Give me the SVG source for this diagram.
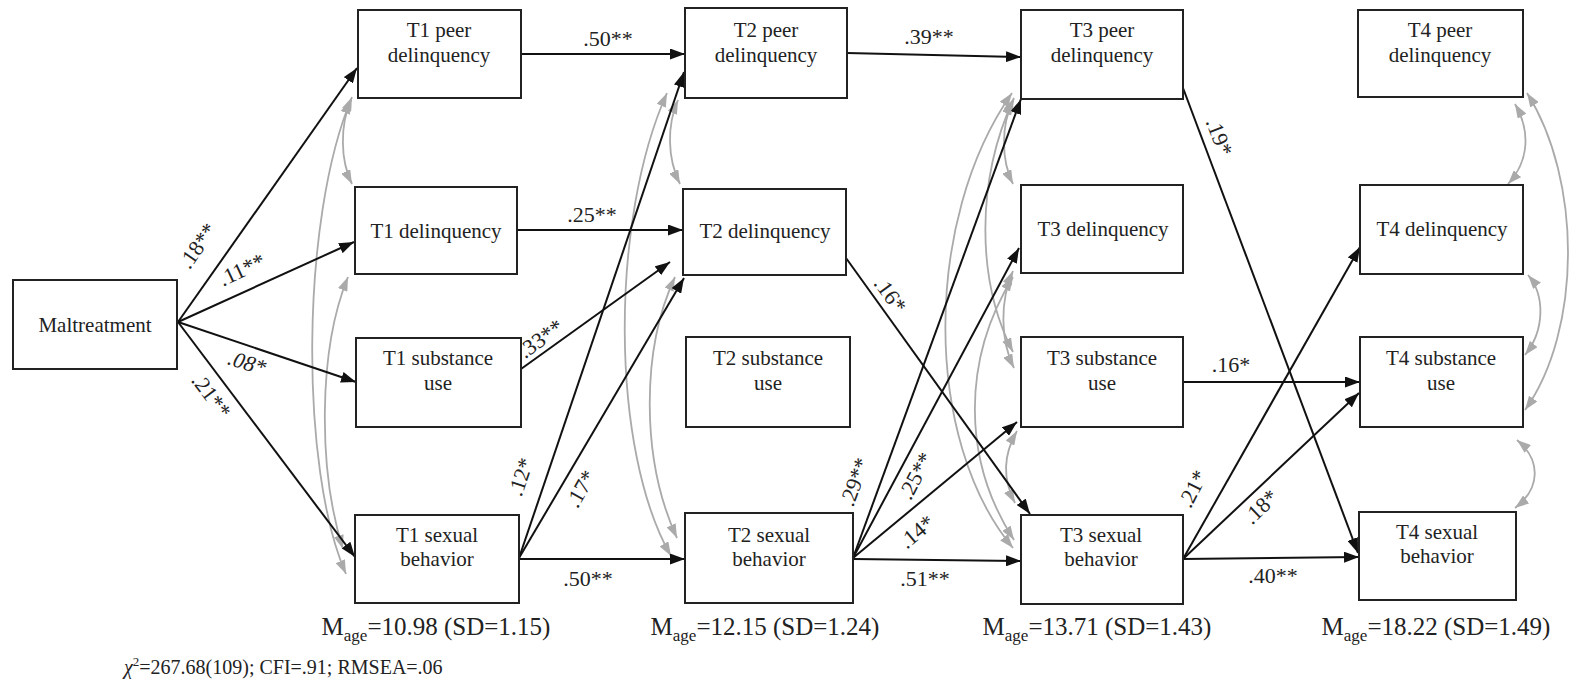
<svg xmlns="http://www.w3.org/2000/svg" width="1593" height="681" viewBox="0 0 1593 681">
<style>
  text { font-family: "Liberation Serif", serif; fill: #222; }
  .box rect { fill: #fff; stroke: #222; stroke-width: 2; }
  .box text { font-size: 21px; text-anchor: middle; }
  .lbl { font-size: 22px; text-anchor: middle; }
  .note { font-size: 25px; text-anchor: middle; }
  .fit { font-size: 20px; }
  .path { fill: none; stroke: #111; stroke-width: 2; marker-end: url(#ah); }
  .cov { fill: none; stroke: #aaa; stroke-width: 1.8; marker-start: url(#gh); marker-end: url(#gh); }
</style>
<defs>
  <marker id="ah" markerUnits="userSpaceOnUse" markerWidth="15" markerHeight="11" refX="15" refY="5.5" orient="auto">
    <path d="M0,0 L15,5.5 L0,11 z" fill="#111"/>
  </marker>
  <marker id="gh" markerUnits="userSpaceOnUse" markerWidth="14" markerHeight="10" refX="14" refY="5" orient="auto-start-reverse">
    <path d="M0,0 L14,5 L0,10 z" fill="#aaa"/>
  </marker>
</defs>
<rect width="1593" height="681" fill="#fff"/>

<g id="connectors" font-family="Liberation Serif, serif">
  <!-- covariances -->
  <path class="cov" d="M351,100 C340,125 340,160 352,184"/>
  <path class="cov" d="M352,97 C300,220 300,470 346,574"/>
  <path class="cov" d="M348,277 C318,350 318,470 343,549"/>

  <path class="cov" d="M678,100 C667,125 667,158 680,184"/>
  <path class="cov" d="M667,93 C610,220 610,450 671,556"/>
  <path class="cov" d="M675,277 C641,350 641,460 677,538"/>

  <path class="cov" d="M1013,101 C1001,125 1001,160 1013,184"/>
  <path class="cov" d="M1014,98 C976,180 976,280 1013,352"/>
  <path class="cov" d="M1012,93 C923,220 923,440 1013,548"/>
  <path class="cov" d="M1013,271 C1000,300 1000,340 1014,368"/>
  <path class="cov" d="M1013,277 C962,360 962,460 1014,540"/>
  <path class="cov" d="M1017,431 C1003,455 1003,480 1015,503"/>

  <path class="cov" d="M1515,104 C1530,130 1530,160 1508,184"/>
  <path class="cov" d="M1527,93 C1582,180 1582,330 1525,410"/>
  <path class="cov" d="M1528,275 C1545,295 1545,330 1525,355"/>
  <path class="cov" d="M1517,440 C1541,460 1541,488 1515,508"/>

  <!-- regression paths -->
  <path class="path" d="M178,322 L357,68"/>
  <path class="path" d="M178,322 L354,242"/>
  <path class="path" d="M178,322 L356,382"/>
  <path class="path" d="M178,322 L355,557"/>

  <path class="path" d="M521,54 L685,54"/>
  <path class="path" d="M517,230 L683,230"/>
  <path class="path" d="M521,369 L670,262"/>
  <path class="path" d="M519,558 L684,72"/>
  <path class="path" d="M519,558 L684,278"/>
  <path class="path" d="M519,559 L685,559"/>

  <path class="path" d="M847,53 L1021,57"/>
  <path class="path" d="M846,258 L1030,514"/>
  <path class="path" d="M853,558 L1021,99"/>
  <path class="path" d="M853,558 L1019,248"/>
  <path class="path" d="M853,558 L1017,422"/>
  <path class="path" d="M853,559 L1021,561"/>

  <path class="path" d="M1183,88 L1358,553"/>
  <path class="path" d="M1183,382 L1360,382"/>
  <path class="path" d="M1183,559 L1360,247"/>
  <path class="path" d="M1183,559 L1359,393"/>
  <path class="path" d="M1183,559 L1359,557"/>

  <!-- labels -->
  <text class="lbl" transform="translate(198,246) rotate(-55)" y="7">.18**</text>
  <text class="lbl" transform="translate(242,270) rotate(-25)" y="7">.11**</text>
  <text class="lbl" transform="translate(247,363) rotate(17)" y="7" font-style="italic">.08*</text>
  <text class="lbl" transform="translate(211,396) rotate(53)" y="7">.21**</text>

  <text class="lbl" x="608" y="46">.50**</text>
  <text class="lbl" x="592" y="222">.25**</text>
  <text class="lbl" transform="translate(541,339) rotate(-36)" y="7">.33**</text>
  <text class="lbl" transform="translate(521,477) rotate(-71)" y="7">.12*</text>
  <text class="lbl" transform="translate(581,489) rotate(-60)" y="7">.17*</text>
  <text class="lbl" x="588" y="586">.50**</text>

  <text class="lbl" x="929" y="44">.39**</text>
  <text class="lbl" transform="translate(890,295) rotate(54)" y="7">.16*</text>
  <text class="lbl" transform="translate(855,482) rotate(-70)" y="7">.29**</text>
  <text class="lbl" transform="translate(916,476) rotate(-62)" y="7">.25**</text>
  <text class="lbl" transform="translate(917,532) rotate(-40)" y="7">.14*</text>
  <text class="lbl" x="925" y="586">.51**</text>

  <text class="lbl" transform="translate(1219,137) rotate(69)" y="7">.19*</text>
  <text class="lbl" x="1231" y="372">.16*</text>
  <text class="lbl" transform="translate(1193,489) rotate(-63)" y="7">.21*</text>
  <text class="lbl" transform="translate(1261,507) rotate(-44)" y="7">.18*</text>
  <text class="lbl" x="1273" y="583">.40**</text>
</g>

<g font-family="Liberation Serif, serif">
<g id="maltreatment" class="box"><rect x="13" y="280" width="164" height="89"/><text x="95" y="332">Maltreatment</text></g>

<g id="t1-peer" class="box"><rect x="358" y="10" width="163" height="88"/><text x="439" y="37">T1 peer</text><text x="439" y="62">delinquency</text></g>
<g id="t1-del" class="box"><rect x="355" y="187" width="162" height="87"/><text x="436" y="238">T1 delinquency</text></g>
<g id="t1-sub" class="box"><rect x="356" y="338" width="165" height="89"/><text x="438" y="365">T1 substance</text><text x="438" y="390">use</text></g>
<g id="t1-sex" class="box"><rect x="355" y="515" width="164" height="88"/><text x="437" y="542">T1 sexual</text><text x="437" y="566">behavior</text></g>

<g id="t2-peer" class="box"><rect x="685" y="8" width="162" height="90"/><text x="766" y="37">T2 peer</text><text x="766" y="62">delinquency</text></g>
<g id="t2-del" class="box"><rect x="683" y="189" width="163" height="86"/><text x="765" y="238">T2 delinquency</text></g>
<g id="t2-sub" class="box"><rect x="686" y="337" width="164" height="90"/><text x="768" y="365">T2 substance</text><text x="768" y="390">use</text></g>
<g id="t2-sex" class="box"><rect x="685" y="513" width="168" height="90"/><text x="769" y="542">T2 sexual</text><text x="769" y="566">behavior</text></g>

<g id="t3-peer" class="box"><rect x="1021" y="10" width="162" height="89"/><text x="1102" y="37">T3 peer</text><text x="1102" y="62">delinquency</text></g>
<g id="t3-del" class="box"><rect x="1021" y="185" width="162" height="88"/><text x="1103" y="236">T3 delinquency</text></g>
<g id="t3-sub" class="box"><rect x="1021" y="337" width="162" height="90"/><text x="1102" y="365">T3 substance</text><text x="1102" y="390">use</text></g>
<g id="t3-sex" class="box"><rect x="1021" y="515" width="162" height="89"/><text x="1101" y="542">T3 sexual</text><text x="1101" y="566">behavior</text></g>

<g id="t4-peer" class="box"><rect x="1358" y="10" width="165" height="87"/><text x="1440" y="37">T4 peer</text><text x="1440" y="62">delinquency</text></g>
<g id="t4-del" class="box"><rect x="1360" y="185" width="163" height="89"/><text x="1442" y="236">T4 delinquency</text></g>
<g id="t4-sub" class="box"><rect x="1360" y="337" width="163" height="90"/><text x="1441" y="365">T4 substance</text><text x="1441" y="390">use</text></g>
<g id="t4-sex" class="box"><rect x="1359" y="512" width="157" height="88"/><text x="1437" y="539">T4 sexual</text><text x="1437" y="563">behavior</text></g>

<g id="ages">
  <text class="note" x="436" y="635">M<tspan font-size="17" dy="6">age</tspan><tspan dy="-6">=10.98 (SD=1.15)</tspan></text>
  <text class="note" x="765" y="635">M<tspan font-size="17" dy="6">age</tspan><tspan dy="-6">=12.15 (SD=1.24)</tspan></text>
  <text class="note" x="1097" y="635">M<tspan font-size="17" dy="6">age</tspan><tspan dy="-6">=13.71 (SD=1.43)</tspan></text>
  <text class="note" x="1436" y="635">M<tspan font-size="17" dy="6">age</tspan><tspan dy="-6">=18.22 (SD=1.49)</tspan></text>
</g>
<text class="fit" x="124" y="674"><tspan font-style="italic">χ</tspan><tspan font-size="13" dy="-8">2</tspan><tspan dy="8">=267.68(109); CFI=.91; RMSEA=.06</tspan></text>
</g>
</svg>
